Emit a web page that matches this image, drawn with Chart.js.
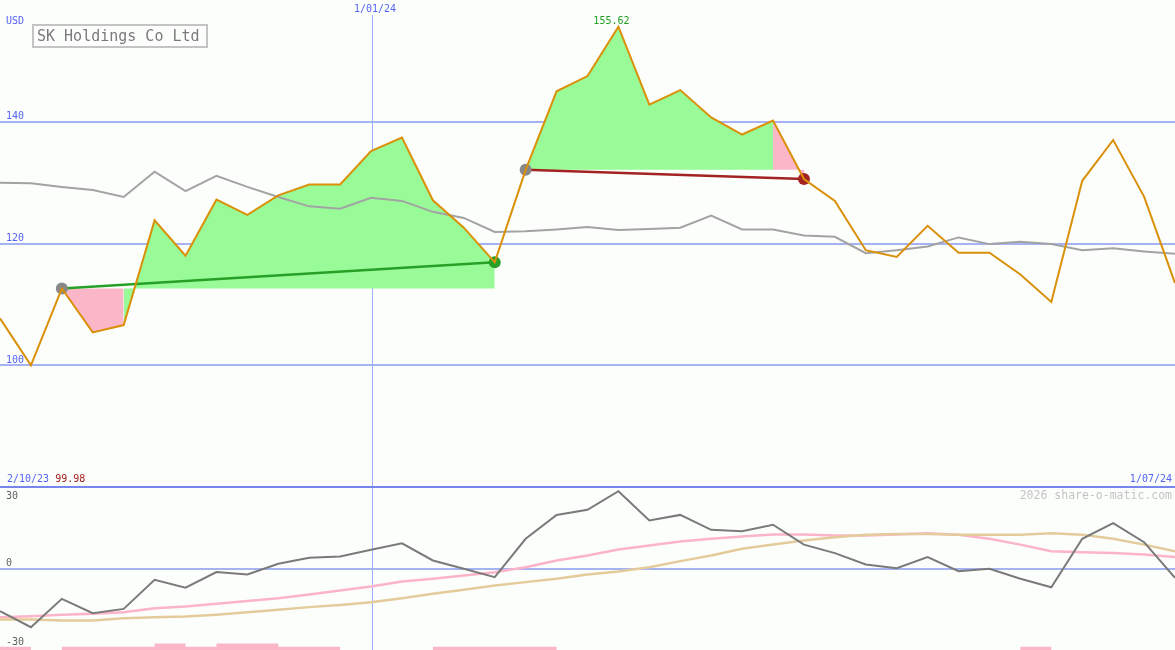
<!DOCTYPE html>
<html lang="en">
<head>
<meta charset="UTF-8">
<title>SK Holdings Co Ltd</title>
<script src="https://cdn.jsdelivr.net/npm/chart.js"></script>
<style>
  html, body { margin: 0; padding: 0; background: #fcfefc; }
  #wrap { position: relative; width: 1175px; height: 650px; overflow: hidden; }
  #priceBox { position: absolute; left: 0; top: 0; width: 1175px; height: 487px; }
  #oscBox { position: absolute; left: 0; top: 487px; width: 1175px; height: 163px; }
  #title { position: absolute; left: 32px; top: 24px; width: 169px; height: 20px; padding-left: 3px;
           border: 2px solid #c4c4c4; font: 15px "DejaVu Sans Mono", monospace; color: #7a7a7a; line-height: 20px; }
</style>
</head>
<body>
<div id="wrap">
  <div id="priceBox"><canvas id="priceChart"></canvas></div>
  <div id="oscBox"><canvas id="oscChart"></canvas></div>
  <div id="title">SK Holdings Co Ltd</div>
</div>
<script>
// weekly closes
const dates = ['9/10/23', '16/10/23', '23/10/23', '30/10/23', '6/11/23', '13/11/23', '20/11/23', '27/11/23',
  '4/12/23', '11/12/23', '18/12/23', '25/12/23', '1/01/24', '8/01/24', '15/01/24', '22/01/24', '29/01/24',
  '5/02/24', '12/02/24', '19/02/24', '26/02/24', '4/03/24', '11/03/24', '18/03/24', '25/03/24', '1/04/24',
  '8/04/24', '15/04/24', '22/04/24', '29/04/24', '6/05/24', '13/05/24', '20/05/24', '27/05/24', '3/06/24',
  '10/06/24', '17/06/24', '24/06/24', '1/07/24'];
const rangeStart = '2/10/23';
const markerDate = '1/01/24';

const price = [107.7, 99.98, 112.6, 105.4, 106.6, 123.8, 118.0, 127.2, 124.7, 127.9, 129.7, 129.7, 135.2,
  137.4, 127.1, 122.6, 116.9, 132.1, 145.0, 147.5, 155.62, 142.8, 145.2, 140.7, 137.9, 140.2, 130.6, 127.0,
  118.9, 117.8, 122.9, 118.5, 118.5, 114.9, 110.4, 130.3, 137.0, 127.7, 113.5];
const avg = [130.0, 129.9, 129.3, 128.8, 127.65, 131.8, 128.6, 131.1, 129.3, 127.65, 126.1, 125.7, 127.5,
  127.0, 125.2, 124.2, 121.9, 122.0, 122.3, 122.7, 122.2, 122.4, 122.6, 124.6, 122.3, 122.3, 121.3, 121.1,
  118.4, 118.9, 119.5, 121.0, 119.9, 120.3, 119.9, 118.9, 119.2, 118.7, 118.3];
// [start index, end index] of each trend run
const trendZones = [[2, 16], [17, 26]];
const priceGrid = [100, 120, 140];
const priceRange = [80, 160];

const osc = [-19.1, -26.3, -13.6, -20.0, -18.1, -5.1, -8.6, -1.6, -2.7, 2.1, 4.8, 5.4, 8.4, 11.3, 3.6, -0.1,
  -3.9, 13.3, 24.0, 26.3, 34.6, 21.5, 24.0, 17.3, 16.7, 19.6, 10.7, 6.9, 1.8, 0.1, 5.1, -1.2, -0.1, -4.6,
  -8.4, 13.3, 20.3, 11.8, -4.2];
const oscPink = [-21.8, -21.4, -20.7, -20.3, -19.6, -17.8, -17.0, -15.8, -14.6, -13.3, -11.6, -9.9, -8.1,
  -5.8, -4.6, -3.1, -1.7, 0.6, 3.6, 5.8, 8.5, 10.3, 12.1, 13.3, 14.3, 15.2, 15.2, 14.8, 14.8, 15.2, 15.8,
  15.1, 13.3, 10.7, 7.7, 7.3, 6.9, 6.3, 5.1];
const oscTan = [-22.8, -22.8, -23.3, -23.3, -22.3, -21.8, -21.5, -20.7, -19.6, -18.5, -17.3, -16.3, -15.1,
  -13.3, -11.3, -9.5, -7.6, -6.1, -4.6, -2.7, -1.3, 0.6, 3.3, 5.8, 8.8, 10.7, 12.5, 14.0, 15.1, 15.5, 15.5,
  15.1, 15.1, 15.1, 15.8, 15.1, 13.3, 10.7, 7.7];
const signal = [1, 0, 1, 1, 1, 2, 1, 2, 2, 1, 1, 0, 0, 0, 1, 1, 1, 1, 0, 0, 0, 0, 0, 0, 0, 0, 0, 0, 0, 0,
  0, 0, 0, 1, 0, 0, 0, 0, 0];
const oscGrid = [0];
const oscTicks = [30, 0, -30];
const oscRange = [-36.5, 36.5];

const FONT = '"DejaVu Sans Mono", monospace';
const GRID = '#a5b3f3', VGRID = '#9cb0ff', DIVIDER = '#7786ec', AXIS_TEXT = '#5464f4';
const PRICE = '#da9008', AVG = '#a3a3a3';
const GAIN_FILL = '#98fb98', LOSS_FILL = '#fbb6c8';
const GAIN_LINE = '#26a026', LOSS_LINE = '#a32222', DOT_START = '#888888';
const SIGNAL_STEP = 1.45;

function txt(ctx, s, x, y, color, size, align) {
  ctx.font = size + 'px ' + FONT;
  ctx.fillStyle = color;
  ctx.textAlign = align || 'left';
  ctx.textBaseline = 'middle';
  ctx.fillText(s, x, y);
}

function baseOptions(range) {
  return {
    responsive: true,
    maintainAspectRatio: false,
    animation: false,
    events: [],
    layout: { padding: 0 },
    plugins: { legend: { display: false }, tooltip: { enabled: false } },
    scales: {
      x: { type: 'category', display: false },
      y: { display: false, min: range[0], max: range[1] }
    }
  };
}

const markerIndex = dates.indexOf(markerDate);

const priceFrame = {
  id: 'priceFrame',
  beforeDatasetsDraw(chart) {
    const { ctx, chartArea: a, scales: { x, y } } = chart;
    ctx.save();
    ctx.fillStyle = GRID;
    priceGrid.forEach(v => {
      const py = Math.round(y.getPixelForValue(v));
      ctx.fillRect(a.left, py - 1, a.right - a.left, 2);
    });
    ctx.fillStyle = VGRID;
    ctx.fillRect(Math.round(x.getPixelForValue(markerIndex)) + 1, a.top + 15, 1, a.bottom - a.top);
    ctx.restore();
  },
  afterDatasetsDraw(chart) {
    const { ctx, chartArea: a, scales: { x, y } } = chart;
    ctx.save();
    txt(ctx, 'USD', 6, 21, AXIS_TEXT, 10);
    priceGrid.forEach(v => txt(ctx, String(v), 6, y.getPixelForValue(v) - 5, AXIS_TEXT, 10));
    txt(ctx, markerDate, x.getPixelForValue(markerIndex) + 4, 9.5, AXIS_TEXT, 10, 'center');

    const hi = Math.max(...price), hiIdx = price.indexOf(hi);
    txt(ctx, hi.toFixed(2), x.getPixelForValue(hiIdx) - 7, y.getPixelForValue(hi) - 5, '#1fa01f', 10, 'center');

    const lo = Math.min(...price);
    txt(ctx, rangeStart, 7, a.bottom - 7.5, AXIS_TEXT, 10);
    ctx.font = '10px ' + FONT;
    txt(ctx, lo.toFixed(2), 7 + ctx.measureText(rangeStart + ' ').width, a.bottom - 7.5, '#a31c1c', 10);
    txt(ctx, dates[dates.length - 1], a.right - 3, a.bottom - 7.5, AXIS_TEXT, 10, 'right');

    ctx.fillStyle = DIVIDER;
    ctx.fillRect(a.left, a.bottom - 1, a.right - a.left, 1);
    ctx.restore();
  }
};

const oscFrame = {
  id: 'oscFrame',
  beforeDatasetsDraw(chart) {
    const { ctx, chartArea: a, scales: { x, y } } = chart;
    ctx.save();
    ctx.fillStyle = GRID;
    oscGrid.forEach(v => {
      const py = Math.round(y.getPixelForValue(v));
      ctx.fillRect(a.left, py - 1, a.right - a.left, 2);
    });
    ctx.fillStyle = VGRID;
    ctx.fillRect(Math.round(x.getPixelForValue(markerIndex)) + 1, a.top, 1, a.bottom - a.top);
    ctx.restore();
  },
  afterDatasetsDraw(chart) {
    const { ctx, chartArea: a, scales: { y } } = chart;
    ctx.save();
    ctx.fillStyle = DIVIDER;
    ctx.fillRect(a.left, a.top, a.right - a.left, 1);
    oscTicks.forEach(v => {
      const off = v < 0 ? 6.5 : -5.5;
      txt(ctx, String(v), 6, y.getPixelForValue(v) + off, '#606060', 10);
    });
    txt(ctx, '2026 share-o-matic.com', a.right - 3, 9.5, '#c4c4c4', 11.5, 'right');
    ctx.restore();
  }
};

// fill between price and the level at the start of each run, coloured per segment
const zoneFills = trendZones.map(([s, e]) => {
  const base = price[s];
  return {
    data: price.map((v, i) => (i >= s && i <= e ? v : null)),
    borderWidth: 0,
    borderColor: 'transparent',
    pointRadius: 0,
    fill: { value: base },
    backgroundColor: GAIN_FILL,
    segment: { backgroundColor: c => (c.p1.parsed.y >= base ? GAIN_FILL : LOSS_FILL) },
    order: 3
  };
});

const trendSets = trendZones.map(([s, e]) => {
  const col = price[e] >= price[s] ? GAIN_LINE : LOSS_LINE;
  return {
    data: price.map((v, i) => (i === s || i === e ? v : null)),
    spanGaps: true,
    borderColor: col,
    borderWidth: 2.5,
    pointRadius: c => (c.raw == null ? 0 : 6),
    pointBackgroundColor: c => (c.dataIndex === s ? DOT_START : col),
    pointBorderWidth: 0,
    order: 1
  };
});

new Chart(document.getElementById('priceChart'), {
  type: 'line',
  data: {
    labels: dates,
    datasets: [
      { data: price, borderColor: PRICE, borderWidth: 2, pointRadius: 0, fill: false, order: 0 },
      ...trendSets,
      { data: avg, borderColor: AVG, borderWidth: 2, pointRadius: 0, fill: false, order: 2 },
      ...zoneFills
    ]
  },
  options: baseOptions(priceRange),
  plugins: [priceFrame]
});

new Chart(document.getElementById('oscChart'), {
  type: 'line',
  data: {
    labels: dates,
    datasets: [
      { data: osc, borderColor: '#7a7a7a', borderWidth: 2, pointRadius: 0, fill: false, order: 0 },
      { data: oscTan, borderColor: '#e4cb9b', borderWidth: 2.5, pointRadius: 0, fill: false, order: 1 },
      { data: oscPink, borderColor: '#fcb4c8', borderWidth: 2.5, pointRadius: 0, fill: false, order: 2 },
      {
        data: signal.map(l => oscRange[0] + l * SIGNAL_STEP),
        stepped: true, borderWidth: 0, borderColor: 'transparent', pointRadius: 0,
        fill: 'start', backgroundColor: LOSS_FILL, order: 3
      }
    ]
  },
  options: baseOptions(oscRange),
  plugins: [oscFrame]
});
</script>
</body>
</html>
